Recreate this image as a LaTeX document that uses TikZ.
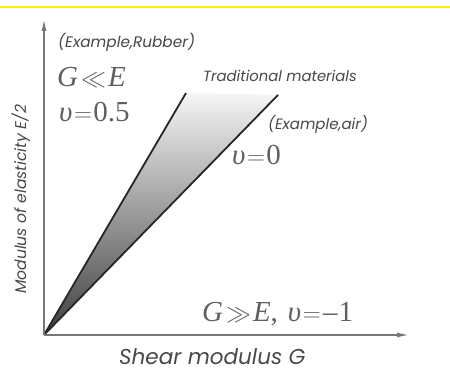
\documentclass[tikz,border=0pt]{standalone}
\usepackage{fontspec}
\setmainfont{Liberation Serif}
\newfontfamily\labfont{Poppins}
\usetikzlibrary{arrows.meta}
\definecolor{axisgray}{HTML}{777777}
\definecolor{txtgray}{HTML}{484848}
\definecolor{serifgray}{HTML}{606060}
\definecolor{topyellow}{HTML}{FFF200}
\tikzset{
  axisline/.style={draw=axisgray, line width=1.4pt, -{Latex[length=12pt,width=5pt]}},
  wedgeline/.style={draw=black!85, line width=1.8pt},
  sanslab/.style={inner sep=0pt, text=txtgray, font=\labfont\itshape\fontsize{15.3}{17}\selectfont},
  seriflab/.style={inner sep=0pt, text=serifgray, font=\itshape\fontsize{29}{32}\selectfont}
}
\newcommand{\mll}{\kern3pt{$\ll$}\kern2pt}
\newcommand{\mgg}{\kern3pt{$\gg$}\kern2pt}
\newcommand{\meq}{\kern1.5pt{$=$}\kern1.5pt}
\begin{document}
\begin{tikzpicture}[x=1pt,y=1pt]
\useasboundingbox (0,0) rectangle (450,371);
\fill[white] (0,0) rectangle (450,371);
\draw[topyellow, line width=2.5pt] (0,364) -- (450,364);
\coordinate (O) at (44,36);
\coordinate (Ytop) at (44,352);
\coordinate (Xend) at (409,36);
\coordinate (A) at (186,278);
\coordinate (B) at (278,276);
\shade[shading angle=-38, top color=black!4, middle color=black!28, bottom color=black!75] (O) -- (A) -- (B) -- cycle;
\draw[wedgeline] (O) -- (A);
\draw[wedgeline] (O) -- (B);
\draw[axisline] (O) -- (Ytop);
\draw[axisline] (O) -- (Xend);
\node[sanslab, anchor=base west] (rub) at (58,323) {(Example,Rubber)};
\node[seriflab, anchor=base west] (gll) at (57,284) {G\mll E};
\node[seriflab, anchor=base west] (nu5) at (59,249) {υ\meq{\upshape 0.5}};
\node[sanslab, anchor=base west, font=\labfont\itshape\fontsize{14.8}{17}\selectfont] (trad) at (203,289) {Traditional materials};
\node[sanslab, anchor=base west, font=\labfont\itshape\fontsize{15}{17}\selectfont] (air) at (268,241) {(Example,air)};
\node[seriflab, anchor=base west] (nu0) at (232,206) {υ\meq{\upshape 0}};
\node[seriflab, anchor=base west] (ggg) at (202,49) {G\mgg E{\upshape,}\kern10pt υ\meq\kern1pt{\upshape –\kern1pt 1}};
\node[sanslab, anchor=base west, font=\labfont\itshape\fontsize{21.5}{24}\selectfont] (xlab) at (119,6) {Shear modulus G};
\node[sanslab, anchor=base west, rotate=90, font=\labfont\itshape\fontsize{15.6}{18}\selectfont] (ylab) at (26,77) {Modulus of elasticity E/2};
\end{tikzpicture}
\end{document}
